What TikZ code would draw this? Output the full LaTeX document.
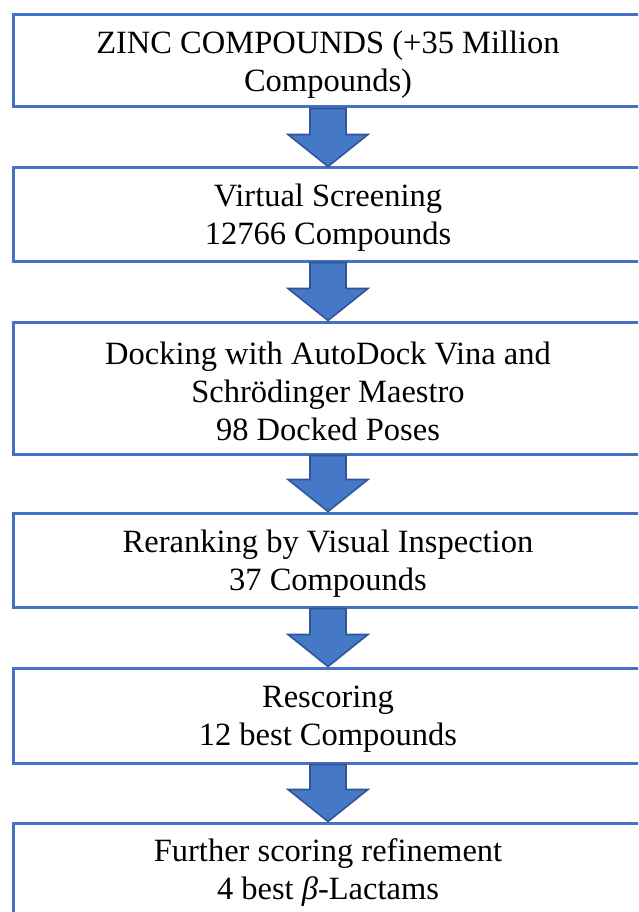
\documentclass[tikz,border=0pt]{standalone}
\usepackage{fontspec}
\setmainfont{Liberation Serif}
\usetikzlibrary{calc}
\definecolor{boxblue}{RGB}{68,114,196}
\definecolor{arrowfill}{RGB}{70,120,200}
\definecolor{arrowline}{RGB}{47,85,151}
\newcommand\topstrut{\rule{0pt}{29pt}}
\tikzset{
  flowbox/.style={draw=boxblue, line width=3pt, fill=white, minimum width=630pt,
    inner sep=0pt, align=center, font=\fontsize{32.5}{38}\selectfont},
  flowarrowstyle/.style={fill=arrowfill, draw=arrowline, line width=1.6pt, line join=miter}
}
\newcommand\flowarrow[2]{%
  \draw[flowarrowstyle]
    ($(#1.south)+(-18,0)$) -- ($(#2.north)+(-18,-32)$) -- ($(#2.north)+(-40,-32)$)
    -- (#2.north) -- ($(#2.north)+(40,-32)$) -- ($(#2.north)+(18,-32)$)
    -- ($(#1.south)+(18,0)$) -- cycle;}
\begin{document}
\begin{tikzpicture}[x=1pt,y=-1pt]
\useasboundingbox (0,0) rectangle (638,912);
\clip (0,0) rectangle (638,912);
\node[flowbox, minimum height=92pt] (b1) at (328,61) {\topstrut ZINC COMPOUNDS (+35 Million\\Compounds)};
\node[flowbox, minimum height=93pt] (b2) at (328,214.5) {\topstrut Virtual Screening\\12766 Compounds};
\node[flowbox, minimum height=132pt] (b3) at (328,388) {\topstrut Docking with AutoDock Vina and\\Schrödinger Maestro\\98 Docked Poses};
\node[flowbox, minimum height=94pt] (b4) at (328,560) {\topstrut Reranking by Visual Inspection\\37 Compounds};
\node[flowbox, minimum height=95pt] (b5) at (328,715.5) {\topstrut Rescoring\\12 best Compounds};
\node[flowbox, minimum height=92pt] (b6) at (328,869) {\topstrut Further scoring refinement\\4 best \textit{β}-Lactams};
\flowarrow{b1}{b2}
\flowarrow{b2}{b3}
\flowarrow{b3}{b4}
\flowarrow{b4}{b5}
\flowarrow{b5}{b6}
\end{tikzpicture}
\end{document}
